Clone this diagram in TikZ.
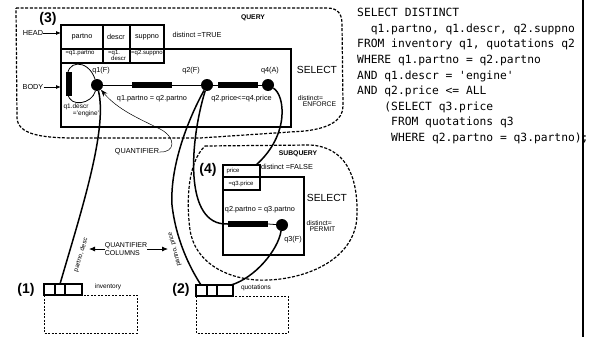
\documentclass[tikz,border=0pt]{standalone}
\usepackage{fontspec}
\setmainfont{Liberation Sans}
\setmonofont{DejaVu Sans Mono}
\usetikzlibrary{arrows.meta}

\tikzset{
  lbl/.style={font=\fontsize{7.3}{8}\selectfont, inner sep=0pt},
  small/.style={font=\fontsize{6}{5.6}\selectfont, inner sep=0pt, align=left},
  caps/.style={font=\bfseries\fontsize{6.8}{7}\selectfont, inner sep=0pt},
  kind/.style={font=\fontsize{10.3}{11}\selectfont, inner sep=0pt},
  numtag/.style={font=\bfseries\fontsize{14}{15}\selectfont, inner sep=0pt},
  var/.style={circle, fill, inner sep=0pt, minimum size=12pt},
  hbar/.style={fill, inner sep=0pt, minimum width=40pt, minimum height=5.5pt},
  vbar/.style={fill, inner sep=0pt, minimum width=6pt, minimum height=24pt},
  boxln/.style={line width=1.1pt},
  tabln/.style={line width=1.3pt},
  rangeln/.style={line width=1.5pt},
  thinln/.style={line width=0.8pt},
  region/.style={line width=1.2pt, dash pattern=on 3pt off 1.6pt},
  store/.style={line width=0.7pt, dash pattern=on 2pt off 1.5pt},
  sql/.style={font=\ttfamily\fontsize{11.3}{15.5}\selectfont, inner sep=0pt, anchor=base west},
}

\begin{document}
\begin{tikzpicture}[x=1pt,y=-1pt]
\useasboundingbox (0,0) rectangle (593,337);

% outer query
\draw[region] (16,8) -- (327,8) .. controls (338,8) and (342,14) .. (342,24) -- (343,106)
  .. controls (343,120) and (330,128) .. (305,131) -- (200,138) -- (75,138)
  .. controls (40,138) and (18,134) .. (17,118) -- cycle;
\node[caps] (qry) at (253,18) {QUERY};
\node[numtag] (n3) at (48,19) {(3)};
\node[lbl] (dtrue) at (197,35) {distinct =TRUE};

% head table
\draw[boxln] (61,25) rectangle (164,63);
\draw[boxln] (61,49) -- (164,49) (103,25) -- (103,63) (130,25) -- (130,63);
\node[lbl] (hp) at (82,37) {partno};
\node[lbl] (hd) at (116,37) {descr};
\node[lbl] (hs) at (147,37) {suppno};
\node[small] (ep) at (80,53) {=q1.partno};
\node[small] (ed) at (117,55.5) {=q1.\\\hspace{3pt}descr};
\node[small] (es) at (147,53) {=q2.suppno};

% body
\draw[boxln] (61,49) rectangle (291,127);
\node[kind] (sel) at (317,70) {SELECT};
\node[lbl, align=left, font=\fontsize{6.8}{6.5}\selectfont] (denf) at (317,101) {distinct=\\\hspace{5pt}ENFORCE};

\node[lbl] (head) at (33,33) {HEAD};
\node[lbl] (body) at (33,87) {BODY};
\coordinate (headin) at (61,33);
\coordinate (bodyin) at (61,87);
\draw[thinln, -{Latex[length=5pt,width=4pt]}] (head) -- (headin);
\draw[thinln, -{Latex[length=5pt,width=4pt]}] (body) -- (bodyin);

% quantifiers
\node[var] (q1) at (97,85) {};
\node[var] (q2) at (207,85) {};
\node[var] (q4) at (268,85) {};
\node[lbl] (q1l) at (101,71) {q1(F)};
\node[lbl] (q2l) at (191,71) {q2(F)};
\node[lbl] (q4l) at (270,71) {q4(A)};

\draw[thinln] (q1) -- (q2) node[hbar, midway] (b12) {}
  node[lbl, midway, below=10pt] (e12) {q1.partno = q2.partno};
\draw[thinln] (q2) -- (q4) node[hbar, midway] (b24) {}
  node[lbl, midway, below=10pt, xshift=4pt] (e24) {q2.price<=q4.price};

\draw[thinln] (q1) .. controls (88,58) and (64,60) .. (68,80) -- (68,94)
  .. controls (70,108) and (92,104) .. (q1);
\node[vbar] (lb) at (69,84) {};
\node[lbl, font=\fontsize{6.5}{6.5}\selectfont] (dsc) at (76,107) {q1.descr};
\node[lbl, font=\fontsize{6.5}{6.5}\selectfont] (eng) at (86,114) {={\char39}engine{\char39}};

\node[lbl] (quant) at (137,152) {QUANTIFIER};
\draw[line width=0.5pt, -{Stealth[length=7pt,width=5pt]}] (quant.east)
  .. controls (176,153) and (176,137) .. (160,129)
  .. controls (140,119) and (118,110) .. (q1);

% subquery
\draw[region] (205,146) -- (310,145) .. controls (345,147) and (358,175) .. (357,215)
  .. controls (356,262) and (300,282) .. (257,280)
  .. controls (225,278) and (195,262) .. (190,230)
  .. controls (186,200) and (188,162) .. (205,146) -- cycle;
\node[caps] (sqry) at (298,154) {SUBQUERY};
\node[numtag] (n4) at (208,170) {(4)};
\node[lbl] (dfalse) at (287,167) {distinct =FALSE};
\draw[boxln] (223,165) rectangle (260,190);
\draw[boxln] (223,177) -- (260,177);
\node[small] (pr) at (233,171) {price};
\node[small] (epr) at (241,184) {=q3.price};
\coordinate (pricein) at (256,165);
\draw[boxln] (223,177) rectangle (304,255);
\node[kind] (ssel) at (327,198) {SELECT};
\node[lbl, align=left, font=\fontsize{6.8}{6.5}\selectfont] (dper) at (321,226) {distinct=\\\hspace{3pt}PERMIT};
\node[lbl] (e23) at (260,210) {q2.partno = q3.partno};
\node[hbar] (sbar) at (248,224) {};
\node[var] (q3) at (282,225) {};
\node[lbl] (q3l) at (293,240) {q3(F)};
\draw[thinln] (sbar.east) -- (q3);

% base relations
\draw[tabln] (44,284) rectangle (82,295);
\draw[tabln] (55,284) -- (55,295) (65,284) -- (65,295);
\draw[store] (44,295) rectangle (137,333);
\node[numtag] (n1) at (26,290) {(1)};
\node[lbl, font=\fontsize{6.5}{6.5}\selectfont] (inv) at (108,287) {inventory};
\coordinate (inv2) at (60,284);

\draw[tabln] (196,285) rectangle (233,296);
\draw[tabln] (207,285) -- (207,296) (217,285) -- (217,296);
\draw[store] (196,296) rectangle (288,333);
\node[numtag] (n2) at (181,290) {(2)};
\node[lbl, font=\fontsize{6.5}{6.5}\selectfont] (quo) at (256,288) {quotations};
\coordinate (quo1) at (201,285);
\coordinate (quo3) at (231,285);

% range joins
\draw[rangeln] (q1) .. controls (108,130) and (80,215) .. (inv2);
\draw[rangeln] (q2) .. controls (185,125) and (170,170) .. (172,205)
  .. controls (176,240) and (190,268) .. (quo1);
\draw[rangeln] (q2) .. controls (190,140) and (183,226) .. (sbar.west);
\draw[rangeln] (q3) .. controls (278,250) and (255,278) .. (quo3);
\draw[rangeln] (q4) .. controls (285,95) and (290,135) .. (pricein);

\node[lbl, rotate=73, font=\fontsize{6.3}{6.3}\selectfont] (pdesc) at (81,255) {partno, desc};
\node[lbl, rotate=105, font=\fontsize{6.3}{6.3}\selectfont] (pprice) at (174.5,249) {partno, price};

\node[lbl, align=left, font=\fontsize{7}{7.5}\selectfont] (qcols) at (126,249) {QUANTIFIER\\COLUMNS};
\coordinate (cl) at (89,249);
\coordinate (cr) at (168,249);
\draw[thinln, -{Latex[length=6pt,width=5pt]}] (qcols.west) -- (cl);
\draw[thinln, -{Latex[length=6pt,width=5pt]}] (qcols.east) -- (cr);

% sql text
\foreach \ind/\txt [count=\i] in {0/SELECT DISTINCT, 2/{q1.partno, q1.descr, q2.suppno},
    0/{FROM inventory q1, quotations q2}, 0/WHERE q1.partno = q2.partno,
    0/AND q1.descr = 'engine', 0/AND q2.price <= ALL, 4/(SELECT q3.price,
    5/FROM quotations q3, 5/{WHERE q2.partno = q3.partno);}}
  \node[sql] (sql\i) at (357+6.8*\ind, 1.5+15.5*\i) {\txt};

\draw[line width=2.4pt] (583,0) -- (583,337);
\end{tikzpicture}
\end{document}
